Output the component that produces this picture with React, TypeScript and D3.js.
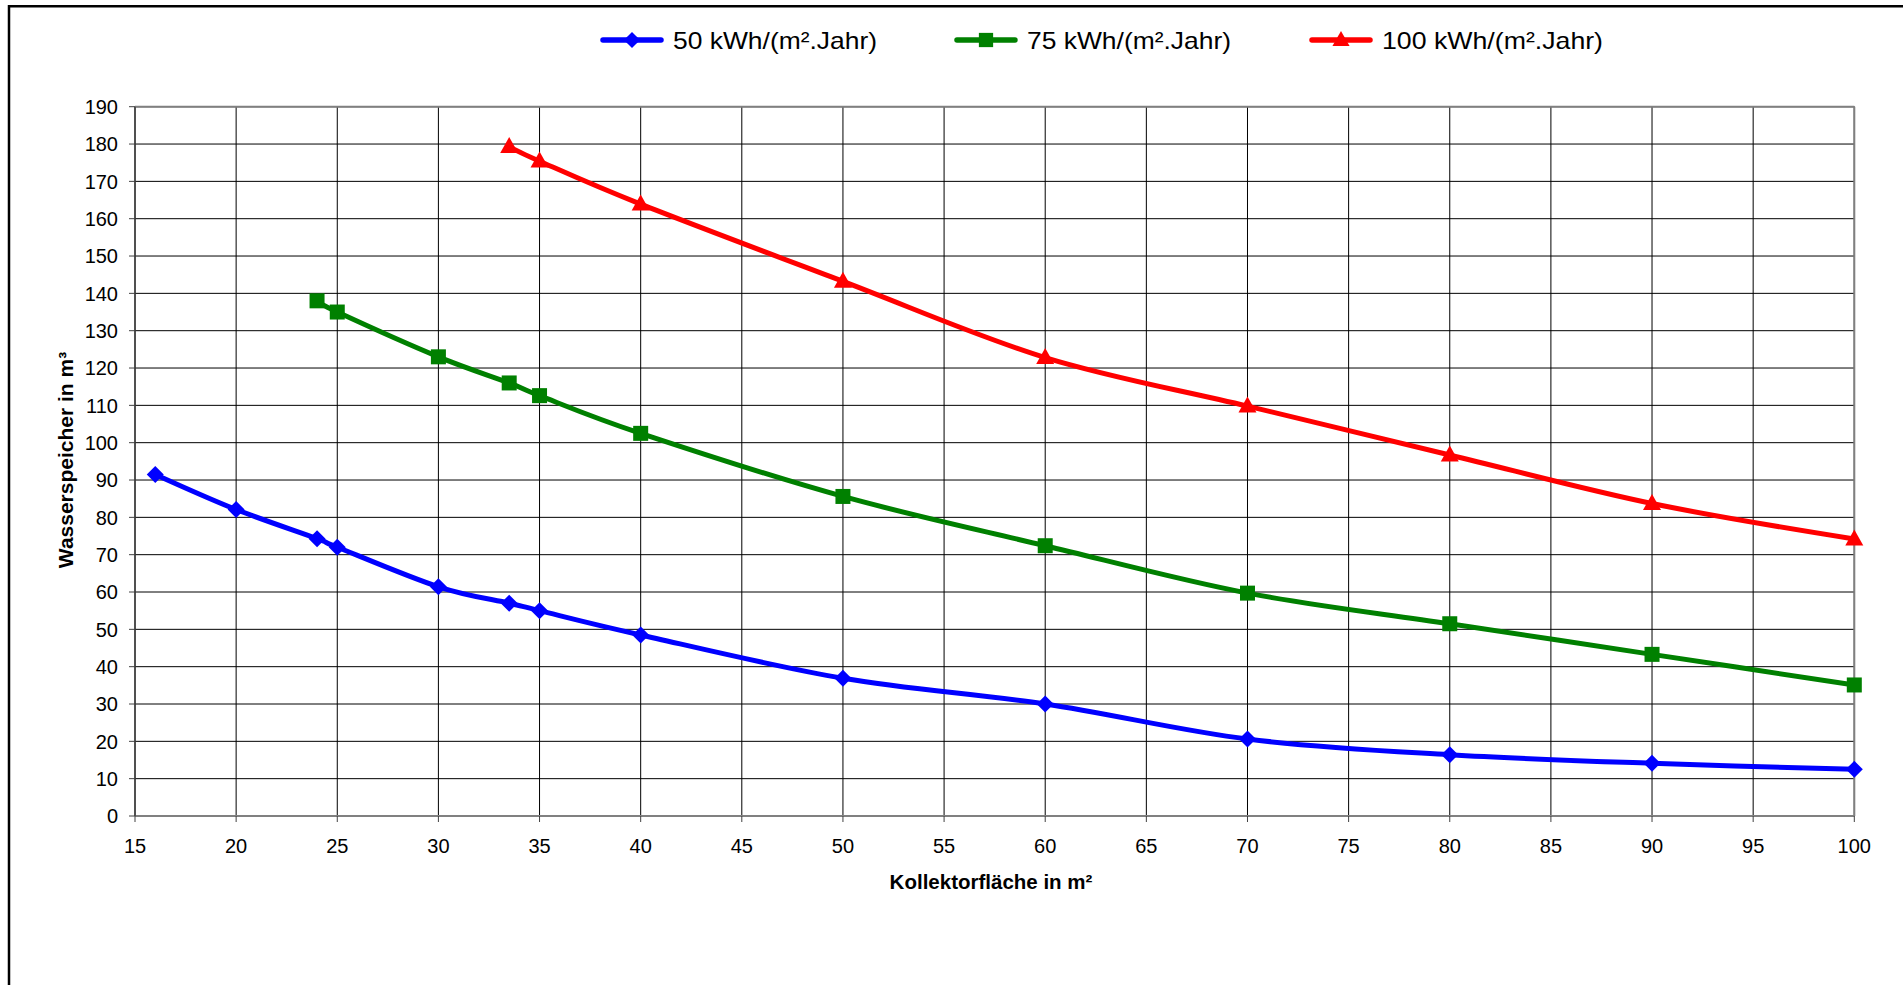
import React from "react";
import * as d3 from "d3";

const xTicks = [15, 20, 25, 30, 35, 40, 45, 50, 55, 60, 65, 70, 75, 80, 85, 90, 95, 100];
const yTicks = [0, 10, 20, 30, 40, 50, 60, 70, 80, 90, 100, 110, 120, 130, 140, 150, 160, 170, 180, 190];

const x50 = [16, 20, 24, 25, 30, 33.5, 35, 40, 50, 60, 70, 80, 90, 100];
const y50 = [91.5, 82.1, 74.3, 72.0, 61.4, 57.0, 55.0, 48.5, 36.9, 30.0, 20.6, 16.4, 14.1, 12.5];

const x75 = [24, 25, 30, 33.5, 35, 40, 50, 60, 70, 80, 90, 100];
const y75 = [138, 135, 123, 116, 112.6, 102.5, 85.6, 72.4, 59.7, 51.5, 43.3, 35.1];

const x100 = [33.5, 35, 40, 50, 60, 70, 80, 90, 100];
const y100 = [179.3, 175.4, 163.9, 143.2, 122.8, 109.8, 96.7, 83.7, 74.2];

const seriesNames = ["50 kWh/(m².Jahr)", "75 kWh/(m².Jahr)", "100 kWh/(m².Jahr)"];
const seriesColors = ["#0000FF", "#008000", "#FF0000"];
const seriesMarkers = ["diamond", "square", "triangle"];

const W = 1903;
const H = 985;
const plot = { left: 135, right: 1854.3, top: 106.7, bottom: 816 };

const font = "'Liberation Sans', Arial, sans-serif";

function Marker({ type, cx, cy, color, s = 1 }: { type: string; cx: number; cy: number; color: string; s?: number }) {
  if (type === "diamond") {
    const r = 8.5 * s;
    return <path d={`M${cx},${cy - r}L${cx + r},${cy}L${cx},${cy + r}L${cx - r},${cy}Z`} fill={color} />;
  }
  if (type === "square") {
    const r = 7.5 * s;
    return <rect x={cx - r} y={cy - r} width={2 * r} height={2 * r} fill={color} />;
  }
  const w = 9 * s;
  const h = 16 * s;
  return <path d={`M${cx},${cy - h * 0.6}L${cx + w},${cy + h * 0.4}L${cx - w},${cy + h * 0.4}Z`} fill={color} />;
}

export default function App() {
  const xs = d3.scaleLinear().domain([15, 100]).range([plot.left, plot.right]);
  const ys = d3.scaleLinear().domain([0, 190]).range([plot.bottom, plot.top]);

  const data = [
    x50.map((x, i) => [x, y50[i]] as [number, number]),
    x75.map((x, i) => [x, y75[i]] as [number, number]),
    x100.map((x, i) => [x, y100[i]] as [number, number]),
  ];

  const line = d3
    .line<[number, number]>()
    .x((d) => xs(d[0]))
    .y((d) => ys(d[1]))
    .curve(d3.curveCatmullRom.alpha(0));

  const legendX = [603, 957, 1312];
  const legendTextW = [204, 204, 221];
  const legendY = 40;

  return (
    <svg
      width={W}
      height={H}
      style={{ position: "absolute", left: 0, top: 0, background: "#fff" }}
      fontFamily={font}
    >
      <rect x={0} y={0} width={W} height={H} fill="#fff" />
      {/* outer chart border */}
      <line x1={9} y1={6.3} x2={W + 5} y2={6.3} stroke="#000" strokeWidth={2.5} />
      <line x1={9} y1={5} x2={9} y2={H + 5} stroke="#000" strokeWidth={2.5} />

      {/* gridlines */}
      {yTicks.map((t) => (
        <line key={"gy" + t} x1={plot.left} x2={plot.right} y1={ys(t)} y2={ys(t)} stroke="#000" strokeWidth={1} />
      ))}
      {xTicks.map((t) => (
        <line key={"gx" + t} x1={xs(t)} x2={xs(t)} y1={plot.top} y2={plot.bottom} stroke="#000" strokeWidth={1} />
      ))}

      {/* plot frame */}
      <line x1={plot.left} x2={plot.right} y1={plot.top} y2={plot.top} stroke="#808080" strokeWidth={2} />
      <line x1={plot.right} x2={plot.right} y1={plot.top} y2={plot.bottom} stroke="#808080" strokeWidth={2} />
      <line x1={plot.left} x2={plot.right} y1={plot.bottom} y2={plot.bottom} stroke="#808080" strokeWidth={2} />
      <line x1={plot.left} x2={plot.left} y1={plot.top} y2={plot.bottom} stroke="#404040" strokeWidth={1.5} />

      {/* ticks */}
      {yTicks.map((t) => (
        <g key={"ty" + t}>
          <line x1={plot.left - 6} x2={plot.left} y1={ys(t)} y2={ys(t)} stroke="#404040" strokeWidth={1} />
          <text x={118} y={ys(t)} dy="0.36em" textAnchor="end" fontSize={20} fill="#000">
            {t}
          </text>
        </g>
      ))}
      {xTicks.map((t) => (
        <g key={"tx" + t}>
          <line x1={xs(t)} x2={xs(t)} y1={plot.bottom} y2={plot.bottom + 6} stroke="#404040" strokeWidth={1} />
          <text x={xs(t)} y={853} textAnchor="middle" fontSize={20} fill="#000">
            {t}
          </text>
        </g>
      ))}

      {/* axis titles */}
      <text x={991} y={889} textAnchor="middle" fontSize={20.5} fontWeight="bold" fill="#000">
        Kollektorfläche in m²
      </text>
      <text
        transform={`translate(73,460) rotate(-90)`}
        textAnchor="middle"
        fontSize={21}
        fontWeight="bold"
        fill="#000"
      >
        Wasserspeicher in m³
      </text>

      {/* series */}
      {data.map((d, si) => (
        <g key={"s" + si}>
          <path d={line(d) || ""} fill="none" stroke={seriesColors[si]} strokeWidth={5} strokeLinejoin="round" />
          {d.map((p, i) => (
            <Marker key={i} type={seriesMarkers[si]} cx={xs(p[0])} cy={ys(p[1])} color={seriesColors[si]} />
          ))}
        </g>
      ))}

      {/* legend */}
      {seriesNames.map((n, i) => (
        <g key={"l" + i}>
          <line
            x1={legendX[i]}
            x2={legendX[i] + 58}
            y1={legendY}
            y2={legendY}
            stroke={seriesColors[i]}
            strokeWidth={5.5}
            strokeLinecap="round"
          />
          <Marker type={seriesMarkers[i]} cx={legendX[i] + 29} cy={legendY} color={seriesColors[i]} s={0.95} />
          <text
            x={legendX[i] + 70}
            y={legendY}
            dy="0.36em"
            fontSize={24}
            fill="#000"
            textLength={legendTextW[i]}
            lengthAdjust="spacingAndGlyphs"
          >
            {n}
          </text>
        </g>
      ))}
    </svg>
  );
}
